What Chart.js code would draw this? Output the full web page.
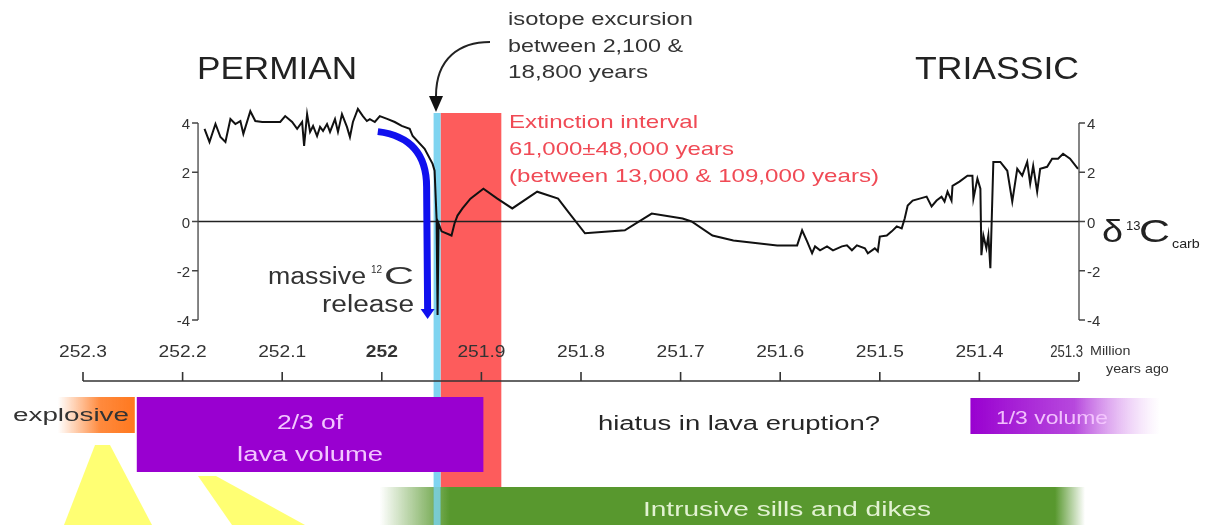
<!DOCTYPE html>
<html><head><meta charset="utf-8">
<script src="https://cdn.jsdelivr.net/npm/chart.js@4.4.1/dist/chart.umd.min.js"></script>
<style>html,body{margin:0;padding:0;background:#fff;overflow:hidden}#wrap{width:1206px;height:525px;position:relative}canvas{display:block}</style>
</head><body><div id="wrap"><canvas id="c" width="1206" height="525"></canvas></div>
<script>
// ---- data (Ma, per mil) ----
const ages = [252.178,252.173,252.167,252.162,252.157,252.152,252.147,252.142,252.139,252.132,
252.127,252.120,252.102,252.097,252.090,252.085,252.080,252.078,252.075,252.072,
252.069,252.065,252.062,252.059,252.055,252.052,252.047,252.044,252.040,252.035,
252.032,252.029,252.024,252.019,252.015,252.012,252.007,252.002,251.994,251.987,
251.980,251.972,251.969,251.957,251.949,251.947,251.945,251.944,251.943,251.940,
251.930,251.927,251.924,251.919,251.911,251.898,251.884,251.869,251.844,251.823,
251.813,251.796,251.756,251.729,251.698,251.689,251.668,251.647,251.603,251.583,
251.578,251.573,251.568,251.565,251.560,251.553,251.547,251.538,251.533,251.528,
251.523,251.515,251.512,251.505,251.502,251.500,251.493,251.488,251.483,251.478,
251.475,251.472,251.467,251.460,251.453,251.448,251.443,251.438,251.435,251.432,
251.428,251.427,251.420,251.412,251.407,251.406,251.402,251.399,251.398,251.396,
251.393,251.391,251.389,251.386,251.379,251.372,251.367,251.362,251.357,251.352,
251.349,251.346,251.342,251.339,251.332,251.327,251.321,251.316,251.309,251.301];
const d13C = [3.76,3.23,3.96,3.43,3.23,4.16,3.96,4.08,3.56,4.48,
4.08,4.04,4.04,4.28,4.04,3.76,4.04,3.07,4.36,3.64,
3.88,3.47,3.84,3.68,3.96,3.64,4.16,3.64,4.36,3.84,
3.43,4.04,4.57,4.28,4.08,4.16,4.04,4.28,4.16,4.04,
3.88,3.76,3.47,2.95,2.34,2.06,0.12,-3.80,-0.08,-0.40,
-0.57,-0.08,0.24,0.53,0.93,1.33,0.93,0.53,1.21,0.93,
0.40,-0.48,-0.36,0.32,0.12,0,-0.57,-0.77,-0.97,-0.97,
-0.36,-0.81,-1.29,-1.01,-1.17,-1.01,-1.17,-1.01,-0.97,-1.17,
-0.97,-1.09,-1.29,-1.09,-1.21,-0.61,-0.57,-0.40,-0.20,-0.28,
0.12,0.65,0.85,0.93,1.01,0.61,0.85,1.01,0.81,1.21,
0.85,1.45,1.62,1.86,1.86,0.93,1.74,1.33,-1.37,-0.57,
-1.09,-0.57,-1.90,2.42,2.42,2.06,0.81,2.14,1.86,2.42,
1.54,2.26,1.21,2.14,2.22,2.55,2.55,2.75,2.55,2.14];
const xTickValues = [252.3,252.2,252.1,252.0,251.9,251.8,251.7,251.6,251.5,251.4,251.3];
const xTickLabels = ['252.3','252.2','252.1','252','251.9','251.8','251.7','251.6','251.5','251.4','251.3'];
const yTickValues = [4,2,0,-2,-4];
const yTickLabels = ['4','2','0','-2','-4'];
const curveStartAge = 252.1845;   // left δ13C axis
const curveEndAge = 251.3;        // right δ13C axis
const isotopeExcursion = [251.948, 251.941];
const extinctionInterval = [251.941, 251.880];
const explosivePhase = [252.30, 252.248];
const lavaTwoThirds = [252.246, 251.898];
const lavaOneThird = [251.409, 251.219];
const intrusivePhase = [252.002, 251.294];

const FONT = '"Liberation Sans", Arial, Helvetica, sans-serif';
function txt(ctx, s, x, y, size, opt) {
  opt = opt || {};
  ctx.save();
  ctx.font = (opt.bold ? 'bold ' : '') + size + 'px ' + FONT;
  ctx.fillStyle = opt.color || '#2a2a2a';
  ctx.textBaseline = 'alphabetic';
  const w = ctx.measureText(s).width;
  const sx = opt.width ? opt.width / w : (opt.sx || 1);
  ctx.translate(x, y);
  ctx.scale(sx, 1);
  ctx.textAlign = opt.align || 'left';
  ctx.fillText(s, 0, 0);
  ctx.restore();
  return w * sx;
}

const annot = {
  id: 'annot',
  beforeDatasetsDraw(chart) {
    const {ctx, scales: {x, y}} = chart;
    ctx.save();
    const rL = x.getPixelForValue(extinctionInterval[0]), rR = x.getPixelForValue(extinctionInterval[1]);
    ctx.fillStyle = '#fd5c5c';
    ctx.fillRect(rL, 113, rR - rL, 487 - 113);
    const cL = x.getPixelForValue(isotopeExcursion[0]), cR = x.getPixelForValue(isotopeExcursion[1]);
    ctx.fillStyle = '#7fd4f0';
    ctx.fillRect(cL, 113, cR - cL, 525 - 113);
    ctx.strokeStyle = '#222'; ctx.lineWidth = 1.6;
    ctx.beginPath();
    ctx.moveTo(x.getPixelForValue(curveStartAge), y.getPixelForValue(0));
    ctx.lineTo(x.getPixelForValue(curveEndAge), y.getPixelForValue(0));
    ctx.stroke();
    // blue arrow (massive 12C release)
    const bx0 = x.getPixelForValue(252.004), by0 = y.getPixelForValue(3.65);
    const bx1 = x.getPixelForValue(251.955);
    ctx.strokeStyle = '#1010ee'; ctx.lineWidth = 7; ctx.lineCap = 'butt';
    ctx.beginPath();
    ctx.moveTo(bx0, by0);
    ctx.bezierCurveTo(bx0 + 32, by0 + 4, bx1, by0 + 22, bx1, y.getPixelForValue(1.4));
    ctx.lineTo(bx1 + 1, y.getPixelForValue(-3.55));
    ctx.stroke();
    ctx.fillStyle = '#1010ee';
    ctx.beginPath();
    const ay = y.getPixelForValue(-3.55);
    ctx.moveTo(bx1 - 6, ay); ctx.lineTo(bx1 + 8, ay); ctx.lineTo(bx1 + 1, ay + 10); ctx.closePath();
    ctx.fill();
    ctx.restore();
  },
  afterDatasetsDraw(chart) {
    const {ctx, scales: {x, y}} = chart;
    ctx.save();
    // yellow rays
    ctx.fillStyle = 'rgba(255,255,90,0.85)';
    ctx.beginPath(); ctx.moveTo(95, 445); ctx.lineTo(110, 445); ctx.lineTo(152, 525); ctx.lineTo(64, 525); ctx.closePath(); ctx.fill();
    ctx.beginPath(); ctx.moveTo(198, 476); ctx.lineTo(216, 476); ctx.lineTo(305, 525); ctx.lineTo(232, 525); ctx.closePath(); ctx.fill();
    // explosive
    const eL = x.getPixelForValue(explosivePhase[0]) - 25, eR = x.getPixelForValue(explosivePhase[1]);
    let g = ctx.createLinearGradient(eL, 0, eR, 0);
    g.addColorStop(0, 'rgba(255,125,40,0)'); g.addColorStop(0.55, 'rgba(255,125,40,0.9)'); g.addColorStop(1, 'rgba(255,120,30,1)');
    ctx.fillStyle = g; ctx.fillRect(eL, 397, eR - eL, 36);
    txt(ctx, 'explosive', 71, 421, 18, {align: 'center', width: 116, color: '#333'});
    // 2/3 lava volume
    const pL = x.getPixelForValue(lavaTwoThirds[0]), pR = x.getPixelForValue(lavaTwoThirds[1]);
    ctx.fillStyle = '#9900d0'; ctx.fillRect(pL, 397, pR - pL, 75);
    const pc = (pL + pR) / 2;
    txt(ctx, '2/3 of', pc, 429, 20, {align: 'center', width: 66, color: '#f3c6ff'});
    txt(ctx, 'lava volume', pc, 461, 20, {align: 'center', width: 146, color: '#f3c6ff'});
    txt(ctx, 'hiatus in lava eruption?', 739, 430, 20, {align: 'center', width: 282, color: '#262626'});
    // 1/3 volume
    const qL = x.getPixelForValue(lavaOneThird[0]), qR = x.getPixelForValue(lavaOneThird[1]);
    g = ctx.createLinearGradient(qL, 0, qR, 0);
    g.addColorStop(0, 'rgba(153,0,208,1)'); g.addColorStop(0.55, 'rgba(170,40,215,0.85)'); g.addColorStop(1, 'rgba(220,150,240,0)');
    ctx.fillStyle = g; ctx.fillRect(qL, 398, qR - qL, 36);
    txt(ctx, '1/3 volume', 996, 424, 19, {width: 112, color: 'rgba(245,200,255,0.95)'});
    // intrusive sills and dikes
    const gL = x.getPixelForValue(intrusivePhase[0]), gR = x.getPixelForValue(intrusivePhase[1]);
    g = ctx.createLinearGradient(gL, 0, gR, 0);
    const gw = gR - gL;
    g.addColorStop(0, 'rgba(88,152,46,0)'); g.addColorStop(70 / gw, 'rgba(88,152,46,1)');
    g.addColorStop(1 - 30 / gw, 'rgba(88,152,46,1)'); g.addColorStop(1, 'rgba(88,152,46,0)');
    ctx.fillStyle = g; ctx.fillRect(gL, 487, gw, 38);
    const cL = x.getPixelForValue(isotopeExcursion[0]), cR = x.getPixelForValue(isotopeExcursion[1]);
    ctx.fillStyle = 'rgba(127,212,240,0.8)'; ctx.fillRect(cL, 487, cR - cL, 38);
    txt(ctx, 'Intrusive sills and dikes', 787, 516, 20, {align: 'center', width: 288, color: '#e2f2d2'});

    // x (age) axis
    const axY = 381;
    ctx.strokeStyle = '#333'; ctx.lineWidth = 1.6;
    ctx.beginPath(); ctx.moveTo(x.getPixelForValue(xTickValues[0]), axY); ctx.lineTo(x.getPixelForValue(xTickValues[xTickValues.length - 1]), axY); ctx.stroke();
    x.ticks.forEach((t, i) => {
      const px = x.getPixelForValue(t.value);
      ctx.beginPath(); ctx.moveTo(px, axY); ctx.lineTo(px, axY - 9); ctx.stroke();
      const lab = xTickLabels[i];
      const last = i === x.ticks.length - 1;
      if (last) txt(ctx, lab, px + 4, 357, 16, {align: 'right', sx: 0.82, color: '#333'});
      else txt(ctx, lab, px, 357, 16, {align: 'center', bold: lab === '252', sx: 1.2, color: '#333'});
    });
    txt(ctx, 'Million', 1090, 355, 13, {sx: 1.1, color: '#333'});
    txt(ctx, 'years ago', 1106, 373, 13, {sx: 1.1, color: '#333'});

    // δ13C axes
    const lx = x.getPixelForValue(curveStartAge), rx = x.getPixelForValue(curveEndAge);
    ctx.strokeStyle = '#444'; ctx.lineWidth = 1.3;
    ctx.beginPath();
    ctx.moveTo(lx, y.getPixelForValue(4)); ctx.lineTo(lx, y.getPixelForValue(-4));
    ctx.moveTo(rx, y.getPixelForValue(4)); ctx.lineTo(rx, y.getPixelForValue(-4));
    ctx.stroke();
    y.ticks.forEach((t, i) => {
      const py = y.getPixelForValue(t.value);
      ctx.beginPath(); ctx.moveTo(lx - 6, py); ctx.lineTo(lx, py); ctx.moveTo(rx, py); ctx.lineTo(rx + 6, py); ctx.stroke();
      txt(ctx, yTickLabels[i], lx - 8, py + 6, 15, {align: 'right', color: '#333'});
      txt(ctx, yTickLabels[i], rx + 8, py + 6, 15, {align: 'left', color: '#333'});
    });
    txt(ctx, 'δ', 1102, 242, 31, {width: 21, color: '#222'});
    txt(ctx, '13', 1126, 230, 13, {color: '#222'});
    txt(ctx, 'C', 1139, 242, 31, {width: 31, color: '#222'});
    txt(ctx, 'carb', 1172, 248, 13, {sx: 1.1, color: '#222'});

    // titles and notes
    txt(ctx, 'PERMIAN', 197, 79, 32, {width: 160, color: '#222'});
    txt(ctx, 'TRIASSIC', 915, 79, 32, {width: 164, color: '#222'});
    txt(ctx, 'isotope excursion', 508, 25, 19, {width: 185, color: '#333'});
    txt(ctx, 'between 2,100 &', 508, 52, 19, {width: 175, color: '#333'});
    txt(ctx, '18,800 years', 508, 78, 19, {width: 140, color: '#333'});
    const red = '#f04a55';
    txt(ctx, 'Extinction interval', 509, 128, 19, {width: 189, color: red});
    txt(ctx, '61,000±48,000 years', 509, 155, 19, {width: 225, color: red});
    txt(ctx, '(between 13,000 & 109,000 years)', 509, 182, 19, {width: 370, color: red});
    txt(ctx, 'C', 414, 284, 23, {align: 'right', width: 30, color: '#333'});
    txt(ctx, '12', 382, 273, 10, {align: 'right', color: '#333'});
    txt(ctx, 'massive', 366, 284, 23, {align: 'right', width: 98, color: '#333'});
    txt(ctx, 'release', 414, 312, 23, {align: 'right', width: 92, color: '#333'});
    // curved arrow from isotope note
    ctx.strokeStyle = '#222'; ctx.lineWidth = 2;
    ctx.beginPath();
    ctx.moveTo(490, 42);
    ctx.bezierCurveTo(460, 42, 436, 58, 436, 96);
    ctx.stroke();
    ctx.fillStyle = '#111';
    ctx.beginPath(); ctx.moveTo(429, 96); ctx.lineTo(443, 96); ctx.lineTo(436, 112); ctx.closePath(); ctx.fill();
    ctx.restore();
  }
};

const ctx = document.getElementById('c').getContext('2d');
new Chart(ctx, {
  type: 'line',
  data: {
    datasets: [{
      data: ages.map((a, i) => ({x: a, y: d13C[i]})),
      borderColor: '#111', borderWidth: 2, pointRadius: 0, tension: 0, fill: false, clip: false
    }]
  },
  options: {
    responsive: false, animation: false, devicePixelRatio: 1,
    layout: {padding: {left: 83, right: 127, top: 123, bottom: 205}},
    plugins: {legend: {display: false}, tooltip: {enabled: false}},
    scales: {
      x: {type: 'linear', reverse: true, min: 251.3, max: 252.3, display: false,
          afterBuildTicks: s => { s.ticks = xTickValues.map(v => ({value: v})); }},
      y: {type: 'linear', min: -4, max: 4, display: false,
          afterBuildTicks: s => { s.ticks = yTickValues.map(v => ({value: v})); }}
    }
  },
  plugins: [annot]
});
</script></body></html>
